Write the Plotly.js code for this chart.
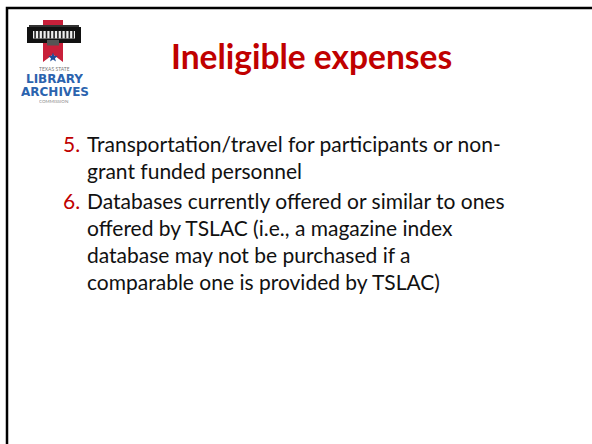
<!DOCTYPE html>
<html>
<head>
<meta charset="utf-8">
<script src="https://cdn.plot.ly/plotly-3.0.1.min.js"></script>
<style>html,body{margin:0;padding:0;background:#fff;}#chart{width:592px;height:444px;}</style>
</head>
<body>
<div id="chart"></div>
<script>
// ---- content ----
const slideTitle = "Ineligible expenses";
const itemNumbers = ["5.", "6."];
const itemLines = [
  ["Transportation/travel for participants or non-", "grant funded personnel"],
  ["Databases currently offered or similar to ones", "offered by TSLAC (i.e., a magazine index", "database may not be purchased if a", "comparable one is provided by TSLAC)"]
];
const logoWords = ["TEXAS STATE", "LIBRARY", "ARCHIVES", "COMMISSION"];

// ---- style ----
const RED = "#C00000";
const BLUE = "#2B63AE";
const FONT = "Lato, 'Open Sans', sans-serif";
const LOGOFONT = "'DejaVu Sans', sans-serif";

const annotations = [];
const shapes = [];

// title
annotations.push({x: 311, y: 55.5, xref: "x", yref: "y", text: "<b>" + slideTitle + "</b>",
  showarrow: false, xanchor: "center", yanchor: "middle",
  font: {family: FONT, size: 33.5, color: RED}});

// list
let y = 143;
const lineGap = 27.2, itemGap = 30;
itemNumbers.forEach((num, i) => {
  annotations.push({x: 61, y: y, xref: "x", yref: "y", text: num, showarrow: false,
    xanchor: "left", yanchor: "middle", font: {family: FONT, size: 21, color: RED}});
  itemLines[i].forEach((ln, j) => {
    annotations.push({x: 85, y: y, xref: "x", yref: "y", text: ln, showarrow: false,
      xanchor: "left", yanchor: "middle", font: {family: FONT, size: 21, color: "#111"}});
    y += (j === itemLines[i].length - 1) ? itemGap : lineGap;
  });
});

// slide frame
shapes.push({type: "path", xref: "x", yref: "y", path: "M7,460 L7,8 L600,8",
  line: {color: "#000", width: 2.5}});

// logo: red banner
shapes.push({type: "path", xref: "x", yref: "y", path: "M43,20 L63,20 L63,62 L53,54.5 L43,62 Z",
  fillcolor: "#C8203A", line: {width: 0}});
// building
shapes.push({type: "rect", xref: "x", yref: "y", x0: 27, x1: 81, y0: 27, y1: 43, fillcolor: "#111", line: {width: 0}});
shapes.push({type: "rect", xref: "x", yref: "y", x0: 29, x1: 79, y0: 25, y1: 27, fillcolor: "#333", line: {width: 0}});
shapes.push({type: "rect", xref: "x", yref: "y", x0: 33, x1: 75, y0: 31, y1: 38.5, fillcolor: "#eee", line: {width: 0}});
for (let k = 0; k < 11; k++) {
  const cx = 34.3 + k * 3.8;
  shapes.push({type: "rect", xref: "x", yref: "y", x0: cx, x1: cx + 1.6, y0: 31, y1: 38.5, fillcolor: "#222", line: {width: 0}});
}
shapes.push({type: "rect", xref: "x", yref: "y", x0: 47, x1: 59, y0: 40, y1: 45.5, fillcolor: "#555", line: {width: 0}});

// star (five-pointed)
let sp = "";
for (let k = 0; k < 10; k++) {
  const r = (k % 2 === 0) ? 5 : 2.1;
  const a = -Math.PI / 2 + k * Math.PI / 5;
  sp += (k === 0 ? "M" : "L") + (53 + r * Math.cos(a)).toFixed(2) + "," + (57.5 + r * Math.sin(a)).toFixed(2);
}
shapes.push({type: "path", xref: "x", yref: "y", path: sp + "Z", fillcolor: "#1F4E9A", line: {width: 0}});

annotations.push({x: 54, y: 68.5, xref: "x", yref: "y", text: logoWords[0], showarrow: false, height: 5,
  xanchor: "center", yanchor: "middle", font: {family: FONT, size: 5, color: "#777"}});
annotations.push({x: 54, y: 78.5, xref: "x", yref: "y", text: "<b>" + logoWords[1] + "</b>", showarrow: false, height: 11,
  xanchor: "center", yanchor: "middle", font: {family: LOGOFONT, size: 12, color: BLUE}});
annotations.push({x: 54.5, y: 91.5, xref: "x", yref: "y", text: "<b>" + logoWords[2] + "</b>", showarrow: false, height: 11,
  xanchor: "center", yanchor: "middle", font: {family: LOGOFONT, size: 12, color: BLUE}});
annotations.push({x: 54, y: 101.5, xref: "x", yref: "y", text: logoWords[3], showarrow: false, height: 5,
  xanchor: "center", yanchor: "middle", font: {family: FONT, size: 4.5, color: "#888"}});

const layout = {
  width: 592, height: 444,
  margin: {l: 0, r: 0, t: 0, b: 0},
  paper_bgcolor: "#fff", plot_bgcolor: "#fff",
  showlegend: false,
  xaxis: {range: [0, 592], visible: false, fixedrange: true},
  yaxis: {range: [444, 0], visible: false, fixedrange: true},
  annotations: annotations,
  shapes: shapes
};
Plotly.newPlot("chart", [], layout, {displayModeBar: false, staticPlot: true});
</script>
</body>
</html>
